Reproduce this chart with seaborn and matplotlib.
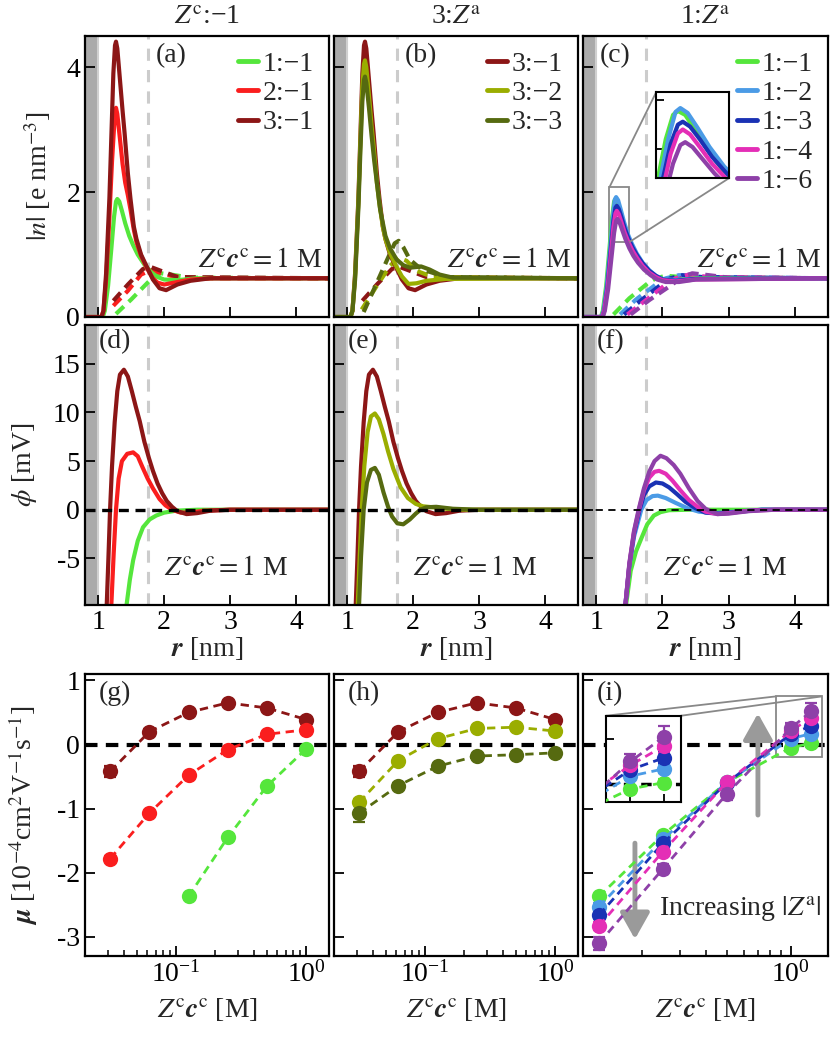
import numpy as np
import pandas as pd
import seaborn as sns
import matplotlib.pyplot as plt
from matplotlib.lines import Line2D
from mpl_toolkits.axes_grid1.inset_locator import mark_inset

# colours of the salts
GREEN = '#55e63c'
RED = '#fa1e1e'
DRED = '#8c1616'
YGREEN = '#9aad00'
OLIVE = '#566a10'
LBLUE = '#4b9be6'
BLUE = '#1a32b4'
MAGENTA = '#e42eb6'
PURPLE = '#8e40a8'

# |n| profiles, (r [nm], |n| [e nm^-3]); solid = cations, dashed = anions
N_11 = [(0.8, 0), (1.07, 0), (1.1, 0.1), (1.15, 0.5), (1.2, 1.1), (1.24, 1.6), (1.27, 1.85), (1.29, 1.89),
        (1.32, 1.85), (1.36, 1.7), (1.41, 1.5), (1.47, 1.3), (1.53, 1.15), (1.6, 1.0), (1.7, 0.84),
        (1.8, 0.72), (1.9, 0.64), (2.0, 0.6), (2.2, 0.59), (2.5, 0.62), (4.5, 0.62)]
N_21 = [(0.8, 0), (1.05, 0), (1.08, 0.1), (1.12, 0.6), (1.17, 1.6), (1.21, 2.5), (1.25, 3.2), (1.27, 3.35),
        (1.29, 3.25), (1.33, 2.85), (1.37, 2.45), (1.41, 2.15), (1.45, 1.95), (1.49, 1.72), (1.54, 1.4),
        (1.58, 1.2), (1.65, 0.98), (1.73, 0.8), (1.83, 0.62), (1.9, 0.55), (2.0, 0.52), (2.15, 0.55),
        (2.4, 0.6), (2.7, 0.62), (4.5, 0.62)]
N_31 = [(0.8, 0), (1.05, 0), (1.08, 0.1), (1.12, 0.7), (1.17, 1.9), (1.2, 2.9), (1.23, 3.9), (1.255, 4.35),
        (1.27, 4.41), (1.29, 4.3), (1.33, 3.8), (1.37, 3.3), (1.4, 2.95), (1.45, 2.3), (1.49, 1.89),
        (1.54, 1.45), (1.58, 1.25), (1.65, 1.0), (1.73, 0.82), (1.83, 0.6), (1.93, 0.46), (2.03, 0.43),
        (2.2, 0.52), (2.4, 0.58), (2.7, 0.62), (4.5, 0.62)]
N_32 = [(0.8, 0), (1.05, 0), (1.08, 0.1), (1.12, 0.65), (1.17, 1.85), (1.2, 2.8), (1.23, 3.7), (1.255, 4.05),
        (1.27, 4.11), (1.29, 4.0), (1.33, 3.55), (1.37, 3.05), (1.4, 2.75), (1.45, 2.15), (1.49, 1.8),
        (1.54, 1.45), (1.58, 1.25), (1.65, 1.02), (1.73, 0.84), (1.83, 0.65), (1.93, 0.53), (2.05, 0.54),
        (2.2, 0.58), (2.5, 0.61), (4.5, 0.62)]
N_33 = [(0.8, 0), (1.05, 0), (1.08, 0.1), (1.12, 0.6), (1.17, 1.75), (1.2, 2.65), (1.23, 3.45), (1.255, 3.8),
        (1.27, 3.85), (1.29, 3.75), (1.33, 3.35), (1.37, 2.9), (1.41, 2.5), (1.45, 2.15), (1.5, 1.72),
        (1.58, 1.3), (1.65, 1.1), (1.75, 0.92), (1.85, 0.83), (1.95, 0.79), (2.05, 0.8), (2.12, 0.81),
        (2.25, 0.76), (2.4, 0.68), (2.6, 0.63), (4.5, 0.62)]
N_12 = [(0.8, 0), (1.08, 0), (1.11, 0.1), (1.16, 0.5), (1.21, 1.1), (1.25, 1.6), (1.28, 1.88), (1.3, 1.92),
        (1.33, 1.87), (1.37, 1.72), (1.42, 1.52), (1.48, 1.32), (1.54, 1.17), (1.61, 1.02), (1.7, 0.87),
        (1.8, 0.75), (1.9, 0.66), (2.0, 0.61), (2.2, 0.59), (2.5, 0.61), (4.5, 0.62)]
N_13 = [(0.8, 0), (1.09, 0), (1.12, 0.1), (1.17, 0.5), (1.22, 1.1), (1.26, 1.55), (1.29, 1.75), (1.31, 1.78),
        (1.34, 1.73), (1.38, 1.6), (1.43, 1.42), (1.49, 1.25), (1.55, 1.11), (1.62, 0.98), (1.7, 0.86),
        (1.8, 0.74), (1.9, 0.66), (2.0, 0.6), (2.2, 0.58), (2.5, 0.61), (4.5, 0.62)]
N_14 = [(0.8, 0), (1.09, 0), (1.12, 0.1), (1.17, 0.45), (1.22, 1.0), (1.26, 1.45), (1.29, 1.66), (1.31, 1.7),
        (1.34, 1.65), (1.38, 1.52), (1.43, 1.35), (1.49, 1.19), (1.55, 1.06), (1.62, 0.94), (1.7, 0.82),
        (1.8, 0.71), (1.9, 0.64), (2.0, 0.59), (2.2, 0.57), (2.5, 0.6), (4.5, 0.62)]
N_16 = [(0.8, 0), (1.1, 0), (1.13, 0.1), (1.18, 0.45), (1.23, 0.95), (1.27, 1.35), (1.3, 1.54), (1.32, 1.57),
        (1.35, 1.52), (1.39, 1.4), (1.44, 1.25), (1.5, 1.1), (1.56, 0.98), (1.63, 0.87), (1.72, 0.76),
        (1.82, 0.67), (1.92, 0.6), (2.05, 0.56), (2.25, 0.56), (2.5, 0.6), (4.5, 0.62)]

A_11 = [(1.27, 0.05), (1.5, 0.28), (1.75, 0.55), (1.85, 0.65), (1.95, 0.7), (2.1, 0.68), (2.4, 0.63), (4.5, 0.62)]
A_21 = [(1.23, 0.18), (1.45, 0.42), (1.65, 0.68), (1.8, 0.75), (1.9, 0.72), (2.1, 0.66), (2.4, 0.62), (4.5, 0.62)]
A_31 = [(1.23, 0.26), (1.45, 0.52), (1.68, 0.77), (1.8, 0.8), (1.95, 0.74), (2.2, 0.64), (4.5, 0.62)]
A_32 = [(1.22, 0.12), (1.45, 0.5), (1.65, 0.82), (1.78, 0.95), (1.9, 0.9), (2.05, 0.74), (2.3, 0.64), (4.5, 0.62)]
A_33 = [(1.25, 0.08), (1.45, 0.55), (1.62, 0.95), (1.72, 1.18), (1.78, 1.22), (1.85, 1.12), (1.95, 0.92),
        (2.06, 0.82), (2.2, 0.74), (2.5, 0.64), (4.5, 0.62)]
A_11c = [(1.26, 0.04), (1.5, 0.3), (1.79, 0.55), (1.9, 0.62), (2.05, 0.66), (2.3, 0.64), (4.5, 0.62)]
A_12 = [(1.36, 0.04), (1.6, 0.28), (1.9, 0.52), (2.05, 0.62), (2.25, 0.67), (2.5, 0.64), (4.5, 0.62)]
A_13 = [(1.42, 0.04), (1.68, 0.27), (1.98, 0.52), (2.12, 0.62), (2.3, 0.67), (2.6, 0.64), (4.5, 0.62)]
A_14 = [(1.47, 0.04), (1.75, 0.27), (2.05, 0.52), (2.2, 0.62), (2.4, 0.68), (2.7, 0.64), (4.5, 0.62)]
A_16 = [(1.52, 0.04), (1.8, 0.27), (2.12, 0.5), (2.3, 0.64), (2.45, 0.7), (2.7, 0.67), (3.0, 0.63), (4.5, 0.62)]

# potential profiles, (r [nm], phi [mV])
P_31 = [(1.11, -13), (1.13, -9.7), (1.155, -5), (1.18, 0), (1.21, 4.5), (1.25, 9.0), (1.29, 12.2), (1.33, 13.9),
        (1.39, 14.4), (1.45, 13.7), (1.51, 12.2), (1.57, 10.6), (1.63, 9.1), (1.7, 7.0), (1.77, 5.3), (1.83, 4.0),
        (1.9, 2.7), (1.97, 1.7), (2.04, 0.9), (2.12, 0.3), (2.2, -0.15), (2.34, -0.45), (2.5, -0.35),
        (2.7, -0.1), (3.0, 0.0), (4.5, 0.0)]
P_21 = [(1.17, -13), (1.2, -9.7), (1.235, -4.5), (1.27, 0), (1.31, 3.2), (1.36, 5.0), (1.44, 5.75), (1.53, 5.9),
        (1.6, 5.5), (1.67, 4.4), (1.75, 3.2), (1.83, 2.2), (1.93, 1.1), (2.02, 0.45), (2.12, 0.0), (2.25, -0.3),
        (2.4, -0.3), (2.6, -0.1), (3.0, 0.0), (4.5, 0.0)]
P_11 = [(1.41, -13), (1.43, -9.8), (1.48, -7.2), (1.53, -5.2), (1.6, -3.2), (1.68, -1.8), (1.78, -1.0),
        (1.88, -0.6), (2.0, -0.3), (2.18, -0.1), (2.5, 0.0), (4.5, 0.0)]
P_32 = [(1.14, -13), (1.16, -9.8), (1.19, -4.8), (1.22, 0), (1.26, 4.5), (1.31, 8.0), (1.36, 9.6), (1.42, 9.9),
        (1.48, 9.3), (1.55, 7.8), (1.62, 6.0), (1.7, 4.2), (1.81, 2.3), (1.92, 1.2), (2.04, 0.6), (2.15, 0.35),
        (2.3, 0.25), (2.5, 0.1), (2.8, 0.0), (4.5, 0.0)]
P_33 = [(1.16, -13), (1.18, -9.8), (1.21, -4.8), (1.25, 0), (1.3, 2.8), (1.36, 4.1), (1.42, 4.3), (1.48, 3.6),
        (1.55, 1.8), (1.62, 0.3), (1.68, -0.7), (1.76, -1.4), (1.85, -1.5), (1.95, -1.0), (2.04, -0.4),
        (2.11, 0.0), (2.2, 0.25), (2.35, 0.3), (2.6, 0.1), (3.0, 0.0), (4.5, 0.0)]
P_16 = [(1.42, -13), (1.44, -9.8), (1.5, -5.5), (1.57, -2.2), (1.64, 0), (1.72, 2.2), (1.8, 3.9), (1.88, 5.0),
        (1.97, 5.55), (2.06, 5.3), (2.17, 4.6), (2.27, 3.7), (2.4, 2.2), (2.53, 0.9), (2.65, 0.1), (2.83, -0.45),
        (3.0, -0.4), (3.3, -0.15), (3.7, 0.0), (4.5, 0.0)]
P_14 = [(1.42, -13), (1.44, -9.8), (1.5, -5.6), (1.57, -2.3), (1.645, 0), (1.72, 2.0), (1.8, 3.3), (1.88, 3.9),
        (1.95, 4.0), (2.05, 3.7), (2.15, 3.0), (2.27, 2.0), (2.4, 1.0), (2.53, 0.3), (2.65, -0.2), (2.83, -0.45),
        (3.0, -0.35), (3.3, -0.1), (3.7, 0.0), (4.5, 0.0)]
P_13 = [(1.42, -13), (1.44, -9.8), (1.5, -5.7), (1.57, -2.5), (1.655, 0), (1.72, 1.5), (1.8, 2.4), (1.9, 2.8),
        (2.0, 2.7), (2.1, 2.3), (2.22, 1.6), (2.35, 0.8), (2.5, 0.15), (2.65, -0.3), (2.85, -0.4), (3.1, -0.25),
        (3.5, 0.0), (4.5, 0.0)]
P_12 = [(1.42, -13), (1.44, -9.8), (1.5, -5.8), (1.57, -2.8), (1.68, 0), (1.76, 1.0), (1.85, 1.4), (1.93, 1.45),
        (2.05, 1.2), (2.2, 0.7), (2.38, 0.15), (2.55, -0.2), (2.8, -0.35), (3.1, -0.2), (3.5, 0.0), (4.5, 0.0)]
P_11f = [(1.43, -13), (1.45, -9.8), (1.52, -6.3), (1.6, -4.3), (1.69, -2.8), (1.77, -1.5), (1.87, -0.6),
         (1.97, -0.25), (2.1, -0.05), (2.4, 0.0), (4.5, 0.0)]

# mobilities [1e-4 cm^2 V^-1 s^-1] vs Z^c c^c [M]
CONC = [0.03125, 0.0625, 0.125, 0.25, 0.5, 1.0]
CONC_11 = [0.125, 0.25, 0.5, 1.0]
CONC_1Z = [0.125, 0.25, 0.5, 1.0, 1.25]
MU_31 = [-0.42, 0.20, 0.50, 0.65, 0.57, 0.39]
MU_31_ERR = [0.08, 0.04, 0.03, 0.03, 0.03, 0.04]
MU_21 = [-1.78, -1.07, -0.48, -0.08, 0.16, 0.23]
MU_21_ERR = [0.04, 0.03, 0.03, 0.03, 0.03, 0.03]
MU_11 = [-2.37, -1.45, -0.65, -0.07]
MU_11_ERR = [0.04, 0.03, 0.03, 0.03]
MU_32 = [-0.90, -0.25, 0.09, 0.25, 0.27, 0.21]
MU_32_ERR = [0.05, 0.03, 0.03, 0.03, 0.03, 0.03]
MU_33 = [-1.07, -0.64, -0.34, -0.18, -0.16, -0.13]
MU_33_ERR = [0.14, 0.04, 0.03, 0.03, 0.03, 0.03]
MU_1Z_LABELS = ['1:\u22121', '1:\u22122', '1:\u22123', '1:\u22124', '1:\u22126']
MU_1Z = [[-2.37, -1.41, -0.59, -0.05, 0.02],
         [-2.53, -1.48, -0.59, 0.09, 0.17],
         [-2.66, -1.54, -0.60, 0.16, 0.29],
         [-2.83, -1.67, -0.59, 0.21, 0.42],
         [-3.10, -1.94, -0.77, 0.25, 0.52]]
MU_1Z_ERR = [[0.04, 0.03, 0.03, 0.03, 0.04],
             [0.05, 0.04, 0.03, 0.04, 0.05],
             [0.05, 0.04, 0.04, 0.05, 0.06],
             [0.06, 0.05, 0.05, 0.06, 0.08],
             [0.10, 0.08, 0.10, 0.08, 0.12]]
COLORS_1Z = [GREEN, LBLUE, BLUE, MAGENTA, PURPLE]

sns.set_style('ticks')
plt.rcParams.update({
    'font.family': ['Liberation Serif', 'DejaVu Serif'],
    'mathtext.fontset': 'stix',
    'font.size': 20,
    'axes.unicode_minus': False,
    'axes.linewidth': 1.6,
    'xtick.direction': 'in', 'ytick.direction': 'in',
    'xtick.major.size': 7, 'ytick.major.size': 7,
    'xtick.minor.size': 4, 'ytick.minor.size': 4,
    'xtick.major.width': 1.3, 'ytick.major.width': 1.3,
    'xtick.minor.width': 1.1, 'ytick.minor.width': 1.1,
    'xtick.color': 'black', 'ytick.color': 'black',
    'axes.edgecolor': 'black',
})

fig = plt.figure(figsize=(8.3, 10.38), dpi=100)
W, H = 830, 1038
cols = [(85, 329), (334, 578), (583, 828)]
rows = [(36, 317), (325, 605), (674, 956)]


def make_ax(c, r):
    x0, x1 = cols[c]
    y0, y1 = rows[r]
    return fig.add_axes([x0 / W, 1 - y1 / H, (x1 - x0) / W, (y1 - y0) / H])


def curve(ax, pts, color, dashed=False, lw=3.0, z=2):
    df = pd.DataFrame(pts, columns=['r', 'v'])
    ls = (0, (2.6, 1.6)) if dashed else '-'
    sns.lineplot(data=df, x='r', y='v', ax=ax, color=color, lw=lw, linestyle=ls,
                 sort=False, estimator=None, legend=False, zorder=z)


def frame_r(ax):
    ax.axvspan(0.8, 1.0, color='#aaaaaa', lw=0, zorder=0)
    ax.axvline(1.0, color='#d0d0d0', lw=1.5, zorder=0)
    ax.axvline(1.75, color='#cccccc', lw=2.2, ls=(0, (4, 3)), zorder=1)
    ax.set_xlim(0.8, 4.5)
    ax.set_xticks([1, 2, 3, 4])


def legend(ax, labels, colors):
    handles = [Line2D([], [], color=c, lw=3.5) for c in colors]
    ax.legend(handles, labels, loc='upper right', frameon=False, handlelength=0.75,
              handletextpad=0.15, labelspacing=0.14, borderaxespad=0.15, fontsize=20)


conc_txt = r'$Z^{\rm c}\mathbfit{c}^{\rm c} = 1$ M'
rlabel = r'$\mathbfit{r}$ [nm]'
zlabel = r'$Z^{\rm c}\mathbfit{c}^{\rm c}$ [M]'

# ---------- row 1: |n| ----------
row1 = [make_ax(c, 0) for c in range(3)]
sets_n = [
    [(N_11, A_11, GREEN), (N_21, A_21, RED), (N_31, A_31, DRED)],
    [(N_31, A_31, DRED), (N_32, A_32, YGREEN), (N_33, A_33, OLIVE)],
    [(N_11, A_11c, GREEN), (N_12, A_12, LBLUE), (N_13, A_13, BLUE), (N_14, A_14, MAGENTA), (N_16, A_16, PURPLE)],
]
for ax, sets in zip(row1, sets_n):
    frame_r(ax)
    for cat, an, col in sets:
        curve(ax, an, col, dashed=True)
    for cat, an, col in sets:
        curve(ax, cat, col)
    ax.set_ylim(0, 4.5)
    ax.set_yticks([0, 2, 4])
    ax.tick_params(labelbottom=False)
    ax.set_xlabel('')
    ax.set_ylabel('')
    ax.text(0.975, 0.2, conc_txt, transform=ax.transAxes, ha='right', va='center')
row1[0].set_ylabel(r'$|n|$ [e nm$^{-3}$]')
row1[1].tick_params(labelleft=False)
row1[2].tick_params(labelleft=False)
legend(row1[0], ['1:\u22121', '2:\u22121', '3:\u22121'], [GREEN, RED, DRED])
legend(row1[1], ['3:\u22121', '3:\u22122', '3:\u22123'], [DRED, YGREEN, OLIVE])
legend(row1[2], MU_1Z_LABELS, COLORS_1Z)
for ax, lab, xp in zip(row1, ['(a)', '(b)', '(c)'], [0.29, 0.29, 0.07]):
    ax.text(xp, 0.975, lab, transform=ax.transAxes, ha='left', va='top')

# inset of the peaks in (c)
insc = row1[2].inset_axes([0.298, 0.494, 0.298, 0.305])
for cat, an, col in sets_n[2]:
    curve(insc, cat, col)
insc.set_xlim(1.2, 1.5)
insc.set_ylim(1.2, 2.08)
insc.set_xticks([])
insc.set_yticks([1.5, 2.0])
insc.tick_params(labelleft=False, length=6)
insc.set_xlabel('')
insc.set_ylabel('')
for s in insc.spines.values():
    s.set_linewidth(1.5)
mark_inset(row1[2], insc, loc1=2, loc2=4, fc='none', ec='#888888', lw=1.3)

# ---------- row 2: phi ----------
row2 = [make_ax(c, 1) for c in range(3)]
sets_p = [
    [(P_11, GREEN), (P_21, RED), (P_31, DRED)],
    [(P_31, DRED), (P_32, YGREEN), (P_33, OLIVE)],
    [(P_11f, GREEN), (P_12, LBLUE), (P_13, BLUE), (P_14, MAGENTA), (P_16, PURPLE)],
]
for i, (ax, sets) in enumerate(zip(row2, sets_p)):
    frame_r(ax)
    for pts, col in sets:
        curve(ax, pts, col)
    ax.axhline(0, color='black', lw=2.4 if i < 2 else 1.3,
               ls=(0, (3, 2)) if i < 2 else (0, (4, 3)), zorder=5)
    ax.set_ylim(-9.8, 19)
    ax.set_yticks([-5, 0, 5, 10, 15])
    ax.set_xlabel(rlabel, labelpad=0)
    ax.set_ylabel('')
    ax.text(0.58, 0.13, conc_txt, transform=ax.transAxes, ha='center', va='center')
    ax.text(0.055, 0.985, '(' + 'def'[i] + ')', transform=ax.transAxes, ha='left', va='top')
row2[0].set_ylabel(r'$\phi$ [mV]')
row2[1].tick_params(labelleft=False)
row2[2].tick_params(labelleft=False)

# ---------- row 3: mobility ----------
row3 = [make_ax(c, 2) for c in range(3)]


def mob(ax, x, y, err, col, ms=11):
    df = pd.DataFrame({'c': x, 'mu': y})
    ax.errorbar(x, y, yerr=err, fmt='none', ecolor=col, elinewidth=1.6, capsize=4, capthick=1.6, zorder=3)
    sns.lineplot(data=df, x='c', y='mu', ax=ax, color=col, lw=2.0, linestyle=(0, (3, 2)),
                 marker='o', markersize=ms, markeredgewidth=0, sort=False, estimator=None,
                 legend=False, zorder=4)


mob(row3[0], CONC, MU_31, MU_31_ERR, DRED)
mob(row3[0], CONC, MU_21, MU_21_ERR, RED)
mob(row3[0], CONC_11, MU_11, MU_11_ERR, GREEN)
mob(row3[1], CONC, MU_31, MU_31_ERR, DRED)
mob(row3[1], CONC, MU_32, MU_32_ERR, YGREEN)
mob(row3[1], CONC, MU_33, MU_33_ERR, OLIVE)
for mu, err, col in zip(MU_1Z, MU_1Z_ERR, COLORS_1Z):
    mob(row3[2], CONC_1Z, mu, err, col)

for i, ax in enumerate(row3):
    ax.set_xscale('log')
    ax.axhline(0, color='black', lw=3, ls=(0, (3, 2)), zorder=1)
    ax.set_ylim(-3.3, 1.1)
    ax.set_yticks([-3, -2, -1, 0, 1])
    ax.set_xlabel(zlabel, labelpad=6)
    ax.set_ylabel('')
    ax.tick_params(which='both', direction='in')
    ax.text(0.055, 0.975, '(' + 'ghi'[i] + ')', transform=ax.transAxes, ha='left', va='top')
row3[0].set_xlim(0.02, 1.5)
row3[1].set_xlim(0.02, 1.5)
row3[2].set_xlim(0.105, 1.5)
row3[0].set_ylabel(r'$\mathbfit{\mu}$ [10$^{-4}$cm$^2$V$^{-1}$s$^{-1}$]')
row3[1].tick_params(labelleft=False)
row3[2].tick_params(labelleft=False)

# inset of the high concentration points in (i)
insi = row3[2].inset_axes([0.094, 0.547, 0.306, 0.305])
for mu, err, col in zip(MU_1Z, MU_1Z_ERR, COLORS_1Z):
    mob(insi, CONC_1Z, mu, err, col)
insi.axhline(0, color='black', lw=2.5, ls=(0, (3, 2)), zorder=1)
insi.set_xscale('log')
insi.set_xlim(0.85, 1.4)
insi.set_ylim(-0.19, 0.75)
insi.set_xticks([1.0, 1.25])
insi.xaxis.set_minor_locator(plt.NullLocator())
insi.set_yticks([0, 0.5])
insi.tick_params(labelleft=False, labelbottom=False, length=6)
insi.set_xlabel('')
insi.set_ylabel('')
for s in insi.spines.values():
    s.set_linewidth(1.5)
mark_inset(row3[2], insi, loc1=1, loc2=2, fc='none', ec='#888888', lw=1.3)

arrow = dict(arrowstyle='-|>,head_width=0.45,head_length=0.8', color='#9a9a9a', lw=3.5)
row3[2].annotate('', xy=(0.714, 0.87), xytext=(0.714, 0.49), xycoords='axes fraction', arrowprops=arrow)
row3[2].annotate('', xy=(0.212, 0.05), xytext=(0.212, 0.41), xycoords='axes fraction', arrowprops=arrow)
row3[2].text(0.64, 0.17, r'Increasing $|Z^{\rm a}|$', transform=row3[2].transAxes, ha='center', va='center')

# column titles
titles = [r'$Z^{\rm c}$:' + '\u22121', r'3:$Z^{\rm a}$', r'1:$Z^{\rm a}$']
for x, t in zip([207, 456, 705], titles):
    fig.text(x / W, 1 - 17 / H, t, ha='center', va='center')

row1[0].yaxis.set_label_coords(-0.13, 0.5)
row2[0].yaxis.set_label_coords(-0.19, 0.5)
row3[0].yaxis.set_label_coords(-0.185, 0.5)

fig.savefig('out.png', dpi=100)
